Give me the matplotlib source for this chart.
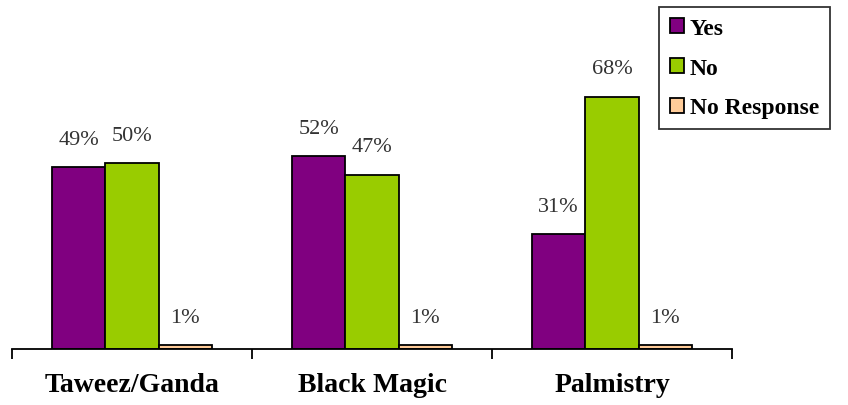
import matplotlib.pyplot as plt
import numpy as np

# ---------------------------------------------------------------------------
# Data
# ---------------------------------------------------------------------------
categories = ["Taweez/Ganda", "Black Magic", "Palmistry"]
series_names = ["Yes", "No", "No Response"]
yes_vals = [49, 52, 31]
no_vals = [50, 47, 68]
noresp_vals = [1, 1, 1]

colors = ["#800080", "#99CC00", "#FFCC99"]
SERIF = ["Liberation Serif", "DejaVu Serif"]

fig = plt.figure(figsize=(8.48, 4.06), dpi=100)
# axes: x from px 12 to 732, baseline at px 350
ax = fig.add_axes([12 / 848, 56 / 406, 720 / 848, 297 / 406])

x = np.arange(len(categories))
width = 160 / 240 / 3
all_vals = [yes_vals, no_vals, noresp_vals]
for i, (vals, name, col) in enumerate(zip(all_vals, series_names, colors)):
    pos = x + (i - 1) * width
    ax.bar(pos, vals, width, color=col, edgecolor="black", linewidth=1.3,
           label=name, zorder=2)
    for px, v in zip(pos, vals):
        ax.annotate(f"{v}%", (px, v), xytext=(0, 20), textcoords="offset points",
                    ha="center", va="center", fontsize=16, color="#333333",
                    family=SERIF)

ax.set_xlim(-0.5, 2.5)
ax.set_ylim(0, 80)
for s in ("top", "right", "left"):
    ax.spines[s].set_visible(False)
ax.spines["bottom"].set_linewidth(1.3)
ax.set_yticks([])
ax.set_xticks([-0.5, 0.5, 1.5, 2.5])
ax.set_xticklabels([])
ax.tick_params(axis="x", direction="out", length=7, width=1.3)
for xi, cat in zip(x, categories):
    ax.text(xi, -0.12, cat, transform=ax.get_xaxis_transform(), ha="center",
            va="center", fontsize=20, fontweight="bold", family=SERIF)

leg = fig.legend(loc="upper left", bbox_to_anchor=(659 / 848, 1 - 8 / 406),
                 frameon=True, fancybox=False, edgecolor="black",
                 prop={"family": SERIF, "weight": "bold", "size": 17},
                 handlelength=0.6, handleheight=0.6, handletextpad=0.25,
                 labelspacing=0.8, borderpad=0.45, borderaxespad=0)
leg.get_frame().set_linewidth(1.3)

fig.savefig("out.png", dpi=100)
